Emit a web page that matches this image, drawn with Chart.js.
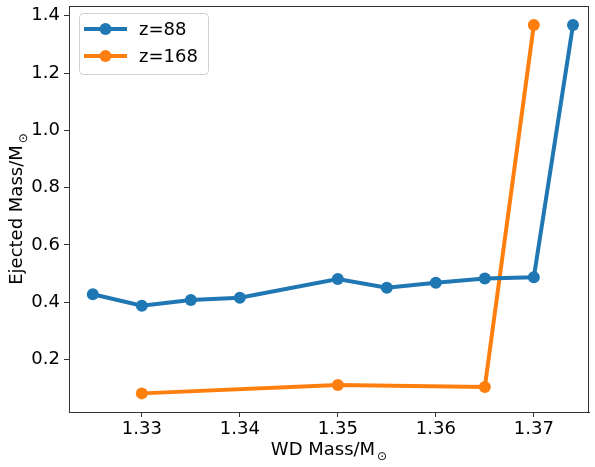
<!DOCTYPE html>
<html>
<head>
<meta charset="utf-8">
<script src="https://cdn.jsdelivr.net/npm/chart.js@4.4.1/dist/chart.umd.min.js"></script>
<style>
html,body{margin:0;padding:0;background:#fff;}
#wrap{width:595px;height:467px;}
</style>
</head>
<body>
<div id="wrap"><canvas id="c" width="595" height="467"></canvas></div>
<script>
// Data
const z88Mass = [1.325, 1.330, 1.335, 1.340, 1.350, 1.355, 1.360, 1.365, 1.370, 1.374];
const z88Ejected = [0.428, 0.388, 0.408, 0.416, 0.481, 0.451, 0.468, 0.483, 0.487, 1.368];
const z168Mass = [1.330, 1.350, 1.365, 1.370];
const z168Ejected = [0.082, 0.111, 0.104, 1.368];
const seriesLabels = ['z=88', 'z=168'];
const xTicks = [1.33, 1.34, 1.35, 1.36, 1.37];
const yTicks = [0.2, 0.4, 0.6, 0.8, 1.0, 1.2, 1.4];
const xTitle = 'WD Mass/M';
const yTitle = 'Ejected Mass/M';
const sunSymbol = '\u2299';

const FONT = 'DejaVu Sans';
const FS = 18, SUB = 12;
const BLUE = '#1f77b4', ORANGE = '#ff7f0e';

function toPts(xs, ys){ return xs.map((x,i)=>({x:x, y:ys[i]})); }

const decor = {
  id:'decor',
  afterDraw(chart){
    const ctx = chart.ctx, a = chart.chartArea;
    ctx.save();
    // frame
    ctx.strokeStyle = '#333'; ctx.lineWidth = 1;
    ctx.strokeRect(a.left+0.5, a.top+0.5, a.right-a.left-1, a.bottom-a.top);
    // x title with subscript
    ctx.fillStyle = '#000';
    ctx.textBaseline = 'alphabetic';
    ctx.font = FS+'px "'+FONT+'"';
    const w1 = ctx.measureText(xTitle).width;
    ctx.font = SUB+'px "'+FONT+'"';
    const w2 = ctx.measureText(sunSymbol).width;
    let cx = (a.left+a.right)/2, x0 = cx - (w1+w2+2)/2;
    ctx.font = FS+'px "'+FONT+'"';
    ctx.textAlign = 'left';
    ctx.fillText(xTitle, x0, 455);
    ctx.font = SUB+'px "'+FONT+'"';
    ctx.fillText(sunSymbol, x0+w1+2, 460);
    // y title
    ctx.save();
    ctx.translate(21.5, (a.top+a.bottom)/2);
    ctx.rotate(-Math.PI/2);
    ctx.font = FS+'px "'+FONT+'"';
    const v1 = ctx.measureText(yTitle).width;
    ctx.font = SUB+'px "'+FONT+'"';
    const v2 = ctx.measureText(sunSymbol).width;
    const y0 = -(v1+v2+2)/2;
    ctx.font = FS+'px "'+FONT+'"';
    ctx.fillText(yTitle, y0, 0);
    ctx.font = SUB+'px "'+FONT+'"';
    ctx.fillText(sunSymbol, y0+v1+2, 5);
    ctx.restore();
    // legend
    const bx=79.5, by=13.5, bw=129, bh=61, r=4;
    ctx.beginPath();
    ctx.moveTo(bx+r,by); ctx.lineTo(bx+bw-r,by); ctx.quadraticCurveTo(bx+bw,by,bx+bw,by+r);
    ctx.lineTo(bx+bw,by+bh-r); ctx.quadraticCurveTo(bx+bw,by+bh,bx+bw-r,by+bh);
    ctx.lineTo(bx+r,by+bh); ctx.quadraticCurveTo(bx,by+bh,bx,by+bh-r);
    ctx.lineTo(bx,by+r); ctx.quadraticCurveTo(bx,by,bx+r,by); ctx.closePath();
    ctx.fillStyle='rgba(255,255,255,0.8)'; ctx.fill();
    ctx.strokeStyle='#d0d0d0'; ctx.lineWidth=1; ctx.stroke();
    chart.data.datasets.forEach((ds,i)=>{
      const yy = 29 + i*27;
      ctx.strokeStyle = ds.borderColor; ctx.lineWidth = 4; ctx.lineCap='butt';
      ctx.beginPath(); ctx.moveTo(84,yy); ctx.lineTo(127,yy); ctx.stroke();
      ctx.fillStyle = ds.borderColor;
      ctx.beginPath(); ctx.arc(105.5,yy,6,0,Math.PI*2); ctx.fill();
      ctx.fillStyle='#000'; ctx.font=FS+'px "'+FONT+'"';
      ctx.textBaseline='middle'; ctx.textAlign='left';
      ctx.fillText(ds.label, 139, yy+1);
    });
    ctx.restore();
  }
};

new Chart(document.getElementById('c'), {
  type:'scatter',
  data:{
    datasets:[
      {label:seriesLabels[0], data:toPts(z88Mass,z88Ejected), showLine:true,
       borderColor:BLUE, backgroundColor:BLUE, borderWidth:4,
       pointRadius:6, pointHoverRadius:6, pointBorderWidth:0},
      {label:seriesLabels[1], data:toPts(z168Mass,z168Ejected), showLine:true,
       borderColor:ORANGE, backgroundColor:ORANGE, borderWidth:4,
       pointRadius:6, pointHoverRadius:6, pointBorderWidth:0}
    ]
  },
  options:{
    responsive:false, animation:false,
    layout:{padding:{left:0,right:5,top:4,bottom:0}},
    plugins:{legend:{display:false}, tooltip:{enabled:false}},
    scales:{
      x:{type:'linear', min:1.32257, max:1.37563,
         afterBuildTicks(s){ s.ticks = xTicks.map(v=>({value:v})); },
         afterFit(s){ s.height = 55; s.paddingLeft = 0; s.paddingRight = 0; },
         ticks:{font:{family:FONT,size:FS}, color:'#000', padding:2, maxRotation:0,
                callback:(v)=>v.toFixed(2)},
         grid:{drawOnChartArea:false, drawTicks:true, tickLength:5, color:'#333'},
         border:{display:true, color:'#333'}},
      y:{type:'linear', min:0.017, max:1.434,
         afterBuildTicks(s){ s.ticks = yTicks.map(v=>({value:v})); },
         afterFit(s){ s.width = 69; s.paddingTop = 0; s.paddingBottom = 0; },
         ticks:{font:{family:FONT,size:FS}, color:'#000', padding:4,
                callback:(v)=>v.toFixed(1)},
         grid:{drawOnChartArea:false, drawTicks:true, tickLength:5, color:'#333'},
         border:{display:true, color:'#333'}}
    }
  },
  plugins:[decor]
});
</script>
</body>
</html>
